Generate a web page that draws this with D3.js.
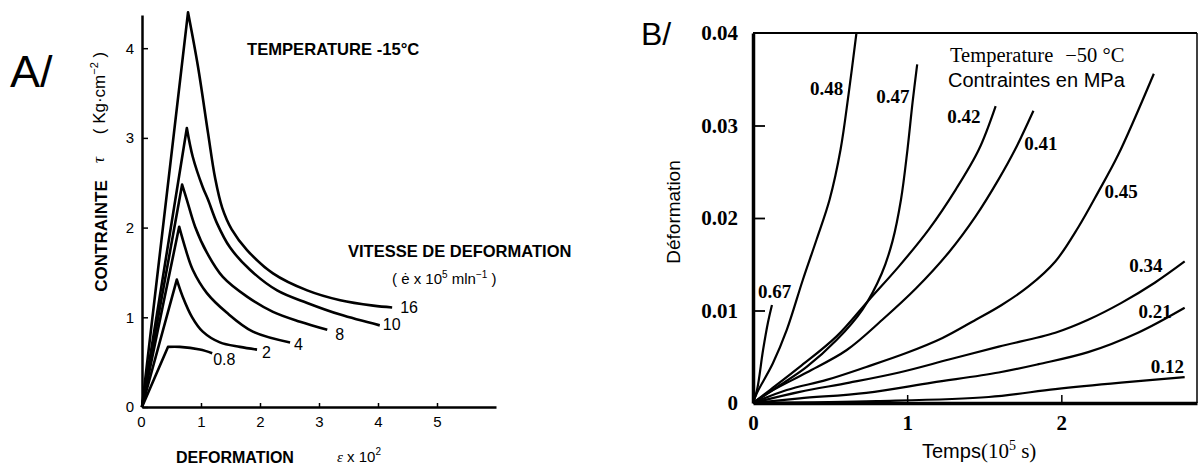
<!DOCTYPE html>
<html>
<head>
<meta charset="utf-8">
<style>
  body { margin: 0; background: #fff; }
  svg { display: block; background: #fff; }
  .sans { font-family: "Liberation Sans", Arial, sans-serif; }
  .serif { font-family: "Liberation Serif", "Times New Roman", serif; }
</style>
</head>
<body>
<svg id="chart" width="1201" height="473"></svg>
<script src="https://cdn.jsdelivr.net/npm/d3@7"></script>
<script>
// ---------- panel A : contrainte vs deformation (-15 °C)
const ratesA = ["16", "10", "8", "4", "2", "0.8"]
const curveA16 = [[0,0],[0.78,4.40],[0.95,3.79],[1.12,3.05],[1.24,2.55],[1.36,2.22],[1.52,1.98],[1.78,1.75],[2.22,1.49],[2.80,1.30],[3.36,1.19],[3.92,1.13],[4.24,1.11]]
const curveA10 = [[0,0],[0.76,3.11],[0.86,2.79],[1.03,2.45],[1.12,2.31],[1.27,2.05],[1.49,1.78],[1.83,1.53],[2.29,1.30],[2.80,1.16],[3.36,1.03],[4.03,0.91]]
const curveA8  = [[0,0],[0.68,2.48],[0.76,2.31],[0.90,2.01],[1.10,1.72],[1.37,1.45],[1.78,1.23],[2.22,1.06],[2.68,0.95],[3.14,0.86]]
const curveA4  = [[0,0],[0.63,2.01],[0.73,1.78],[0.86,1.53],[1.10,1.27],[1.44,1.05],[1.88,0.84],[2.51,0.72]]
const curveA2  = [[0,0],[0.59,1.42],[0.69,1.23],[0.85,1.00],[1.03,0.84],[1.32,0.72],[1.66,0.67],[1.95,0.64]]
const curveA08 = [[0,0],[0.44,0.67],[0.64,0.67],[0.98,0.64],[1.19,0.60]]
const curvesA = [curveA16, curveA10, curveA8, curveA4, curveA2, curveA08]
const ticksAx = [0, 1, 2, 3, 4, 5]
const ticksAy = [0, 1, 2, 3, 4]
// label offset from curve end (px)
const labelOffA = [[8,6],[3,5],[8,10],[4,8],[5,8],[1,12]]

// ---------- panel B : deformation vs temps (-50 °C)
const stressB = ["0.67", "0.48", "0.47", "0.42", "0.41", "0.45", "0.34", "0.21", "0.12"]
const curveB067 = [[0,0],[0.026,0.0014],[0.065,0.0057],[0.097,0.0087],[0.123,0.0106]]
const curveB048 = [[0,0],[0.026,0.0011],[0.129,0.0043],[0.219,0.0079],[0.323,0.0133],[0.413,0.0177],[0.497,0.0220],[0.568,0.0274],[0.620,0.0334],[0.671,0.0400]]
const curveB047 = [[0,0],[0.155,0.0017],[0.348,0.0039],[0.542,0.0068],[0.710,0.0101],[0.835,0.0140],[0.905,0.0175],[0.960,0.0220],[1.002,0.0274],[1.035,0.0325],[1.065,0.0366]]
const curveB042 = [[0,0],[0.110,0.0014],[0.303,0.0039],[0.542,0.0072],[0.755,0.0112],[0.948,0.0148],[1.142,0.0188],[1.316,0.0231],[1.465,0.0274],[1.574,0.0321]]
const curveB041 = [[0,0],[0.110,0.0012],[0.348,0.0033],[0.606,0.0057],[0.839,0.0090],[1.058,0.0124],[1.271,0.0163],[1.445,0.0202],[1.594,0.0242],[1.700,0.0274],[1.819,0.0316]]
const curveB045 = [[0,0],[0.219,0.0014],[0.477,0.0025],[0.735,0.0039],[0.994,0.0054],[1.226,0.0070],[1.445,0.0090],[1.613,0.0106],[1.787,0.0126],[1.961,0.0153],[2.110,0.0190],[2.239,0.0228],[2.368,0.0268],[2.600,0.0356]]
const curveB034 = [[0,0],[0.303,0.0012],[0.626,0.0022],[0.948,0.0033],[1.271,0.0047],[1.594,0.0061],[1.961,0.0076],[2.174,0.0090],[2.387,0.0108],[2.606,0.0130],[2.800,0.0153]]
const curveB021 = [[0,0],[0.303,0.0005],[0.735,0.0011],[1.161,0.0022],[1.594,0.0033],[1.852,0.0042],[2.174,0.0055],[2.497,0.0076],[2.800,0.0103]]
const curveB012 = [[0,0],[0.8,0.0002],[1.529,0.00065],[1.961,0.0015],[2.387,0.0022],[2.800,0.0028]]
const curvesB = [curveB067, curveB048, curveB047, curveB042, curveB041, curveB045, curveB034, curveB021, curveB012]
// where each stress label sits (data units, text start / baseline)
const labelAtB = [[0.032,0.0114],[0.37,0.0333],[0.80,0.0324],[1.26,0.0303],[1.76,0.0274],[2.28,0.0222],[2.44,0.0142],[2.50,0.0092],[2.58,0.0032]]
const ticksBx = [0, 1, 2]
const ticksBy = [0, 0.01, 0.02, 0.03, 0.04]

let svg = d3.select("#chart")

// ================= panel A
let xA = d3.scaleLinear().domain([0, 6]).range([142, 496])
let yA = d3.scaleLinear().domain([0, 4.37]).range([407, 15])

let gA = svg.append("g")

let axAx = gA.append("g")
    .attr("transform", "translate(0,407)")
    .call(d3.axisBottom(xA).tickValues(ticksAx).tickSize(-4).tickSizeOuter(0).tickPadding(9).tickFormat(d3.format("d")))
let axAy = gA.append("g")
    .attr("transform", "translate(142,0)")
    .call(d3.axisLeft(yA).tickValues(ticksAy).tickSize(-6).tickSizeOuter(0).tickPadding(8).tickFormat(d3.format("d")))

axAx.selectAll("text").attr("class", "sans").style("font-size", "15px").attr("font-family", null)
axAy.selectAll("text").attr("class", "sans").style("font-size", "15px").attr("font-family", null)
axAx.select(".domain").attr("stroke-width", 2.5)
axAy.select(".domain").attr("stroke-width", 2.5)
axAx.selectAll(".tick line").attr("stroke-width", 1.5)
axAy.selectAll(".tick line").attr("stroke-width", 1.5)
axAx.selectAll(".tick text").filter(d => d === 0).attr("x", -1)

// rising part is straight, falling part smooth
let riseA = d3.line()
    .x(d => xA(d[0]))
    .y(d => yA(d[1]))
let fallA = d3.line()
    .x(d => xA(d[0]))
    .y(d => yA(d[1]))
    .curve(d3.curveCatmullRom.alpha(0.5))

function peakIndex(c) {
    return d3.maxIndex(c, d => d[1])
}

gA.selectAll("path.rise")
    .data(curvesA)
    .enter().append("path")
    .attr("class", "rise")
    .attr("d", c => riseA(c.slice(0, peakIndex(c) + 1)) + fallA(c.slice(peakIndex(c))).replace(/^M[^A-Za-z]*/, ""))
    .attr("fill", "none")
    .attr("stroke", "#000")
    .attr("stroke-width", 2.6)
    .attr("stroke-linejoin", "round")

gA.selectAll("text.rate")
    .data(ratesA)
    .enter().append("text")
    .attr("class", "rate sans")
    .attr("x", (d, i) => xA(curvesA[i][curvesA[i].length - 1][0]) + labelOffA[i][0])
    .attr("y", (d, i) => yA(curvesA[i][curvesA[i].length - 1][1]) + labelOffA[i][1])
    .style("font-size", "16px")
    .text(d => d)

gA.append("text").attr("class", "sans")
    .attr("x", 10).attr("y", 87)
    .style("font-size", "45px")
    .text("A/")

gA.append("text").attr("class", "sans")
    .attr("x", 247).attr("y", 55)
    .style("font-size", "16.6px").style("font-weight", "bold")
    .text("TEMPERATURE -15°C")

gA.append("text").attr("class", "sans")
    .attr("x", 348).attr("y", 257)
    .style("font-size", "16.5px").style("font-weight", "bold")
    .text("VITESSE DE DEFORMATION")

let rateUnit = gA.append("text").attr("class", "sans")
    .attr("x", 392).attr("y", 284)
    .style("font-size", "15px")
rateUnit.append("tspan").text("( ė x 10")
rateUnit.append("tspan").attr("dy", -6).style("font-size", "10px").text("5")
rateUnit.append("tspan").attr("dy", 6).text(" mln")
rateUnit.append("tspan").attr("dy", -6).style("font-size", "10px").text("−1")
rateUnit.append("tspan").attr("dy", 6).text(" )")

gA.append("text").attr("class", "sans")
    .attr("x", 176).attr("y", 463)
    .style("font-size", "16px").style("font-weight", "bold")
    .text("DEFORMATION")

let strainUnit = gA.append("text").attr("class", "sans")
    .attr("x", 337).attr("y", 462)
    .style("font-size", "15px")
strainUnit.append("tspan").attr("class", "serif").style("font-style", "italic").text("ε")
strainUnit.append("tspan").text(" x 10")
strainUnit.append("tspan").attr("dy", -7).style("font-size", "10px").text("2")

gA.append("text").attr("class", "sans")
    .attr("transform", "translate(107,236) rotate(-90)")
    .attr("text-anchor", "middle")
    .style("font-size", "17px").style("font-weight", "bold")
    .text("CONTRAINTE")

gA.append("text").attr("class", "serif")
    .attr("transform", "translate(104,160) rotate(-90)")
    .attr("text-anchor", "middle")
    .style("font-size", "17px").style("font-style", "italic")
    .text("τ")

let stressUnit = gA.append("text").attr("class", "sans")
    .attr("transform", "translate(105,93) rotate(-90)")
    .attr("text-anchor", "middle")
    .style("font-size", "17px")
stressUnit.append("tspan").text("( Kg·cm")
stressUnit.append("tspan").attr("dy", -7).style("font-size", "11px").text("−2")
stressUnit.append("tspan").attr("dy", 7).text(" )")

// ================= panel B
let xB = d3.scaleLinear().domain([0, 2.88]).range([753, 1197])
let yB = d3.scaleLinear().domain([0, 0.04]).range([403, 33])

let gB = svg.append("g")

// frame top & right
gB.append("line").attr("x1", xB(0)).attr("x2", xB(2.88)).attr("y1", yB(0.04)).attr("y2", yB(0.04))
    .attr("stroke", "#000").attr("stroke-width", 2)
gB.append("line").attr("x1", xB(2.88)).attr("x2", xB(2.88)).attr("y1", yB(0.04)).attr("y2", yB(0))
    .attr("stroke", "#000").attr("stroke-width", 1.5)

let axBx = gB.append("g")
    .attr("transform", "translate(0,403)")
    .call(d3.axisBottom(xB).tickValues(ticksBx).tickSize(-8).tickSizeOuter(0).tickPadding(12).tickFormat(d3.format("d")))
let axBy = gB.append("g")
    .attr("transform", "translate(753,0)")
    .call(d3.axisLeft(yB).tickValues(ticksBy).tickSize(-12).tickSizeOuter(0).tickPadding(15)
        .tickFormat(d => d === 0 ? "0" : d3.format(".2f")(d)))

axBx.selectAll("text").attr("class", "serif").style("font-size", "21px").style("font-weight", "bold").attr("font-family", null)
axBy.selectAll("text").attr("class", "serif").style("font-size", "21px").style("font-weight", "bold").attr("font-family", null)
axBx.select(".domain").attr("stroke-width", 3.5)
axBy.select(".domain").attr("stroke-width", 3.5)
axBx.selectAll(".tick line").attr("stroke-width", 1.5).filter(d => d === 0).remove()
axBy.selectAll(".tick line").attr("stroke-width", 1.8).filter(d => d === 0 || d === 0.04).remove()

let lineB = d3.line()
    .x(d => xB(d[0]))
    .y(d => yB(d[1]))
    .curve(d3.curveCatmullRom.alpha(0.5))

gB.selectAll("path.curve")
    .data(curvesB)
    .enter().append("path")
    .attr("class", "curve")
    .attr("d", lineB)
    .attr("fill", "none")
    .attr("stroke", "#000")
    .attr("stroke-width", 2.2)

gB.selectAll("text.stress")
    .data(stressB)
    .enter().append("text")
    .attr("class", "stress serif")
    .attr("x", (d, i) => xB(labelAtB[i][0]))
    .attr("y", (d, i) => yB(labelAtB[i][1]))
    .style("font-size", "19px").style("font-weight", "bold")
    .text(d => d)

gB.append("text").attr("class", "sans")
    .attr("x", 641).attr("y", 45)
    .style("font-size", "32px")
    .text("B/")

let tempB = gB.append("text").attr("class", "serif")
    .attr("x", 950).attr("y", 62)
    .style("font-size", "20.5px")
tempB.append("tspan").text("Temperature")
tempB.append("tspan").attr("dx", 12).text("−50 °C")

gB.append("text").attr("class", "sans")
    .attr("x", 948).attr("y", 87)
    .style("font-size", "20px")
    .text("Contraintes en MPa")

gB.append("text").attr("class", "sans")
    .attr("transform", "translate(680,212) rotate(-90)")
    .attr("text-anchor", "middle")
    .style("font-size", "19px")
    .text("Déformation")

let timeLabel = gB.append("text").attr("class", "sans")
    .attr("x", 922).attr("y", 458)
    .style("font-size", "20px")
timeLabel.append("tspan").text("Temps")
timeLabel.append("tspan").attr("class", "serif").style("font-size", "21px").text("(10")
timeLabel.append("tspan").attr("class", "serif").attr("dy", -8).style("font-size", "14px").text("5")
timeLabel.append("tspan").attr("class", "serif").attr("dy", 8).style("font-size", "21px").text(" s)")
</script>
</body>
</html>
